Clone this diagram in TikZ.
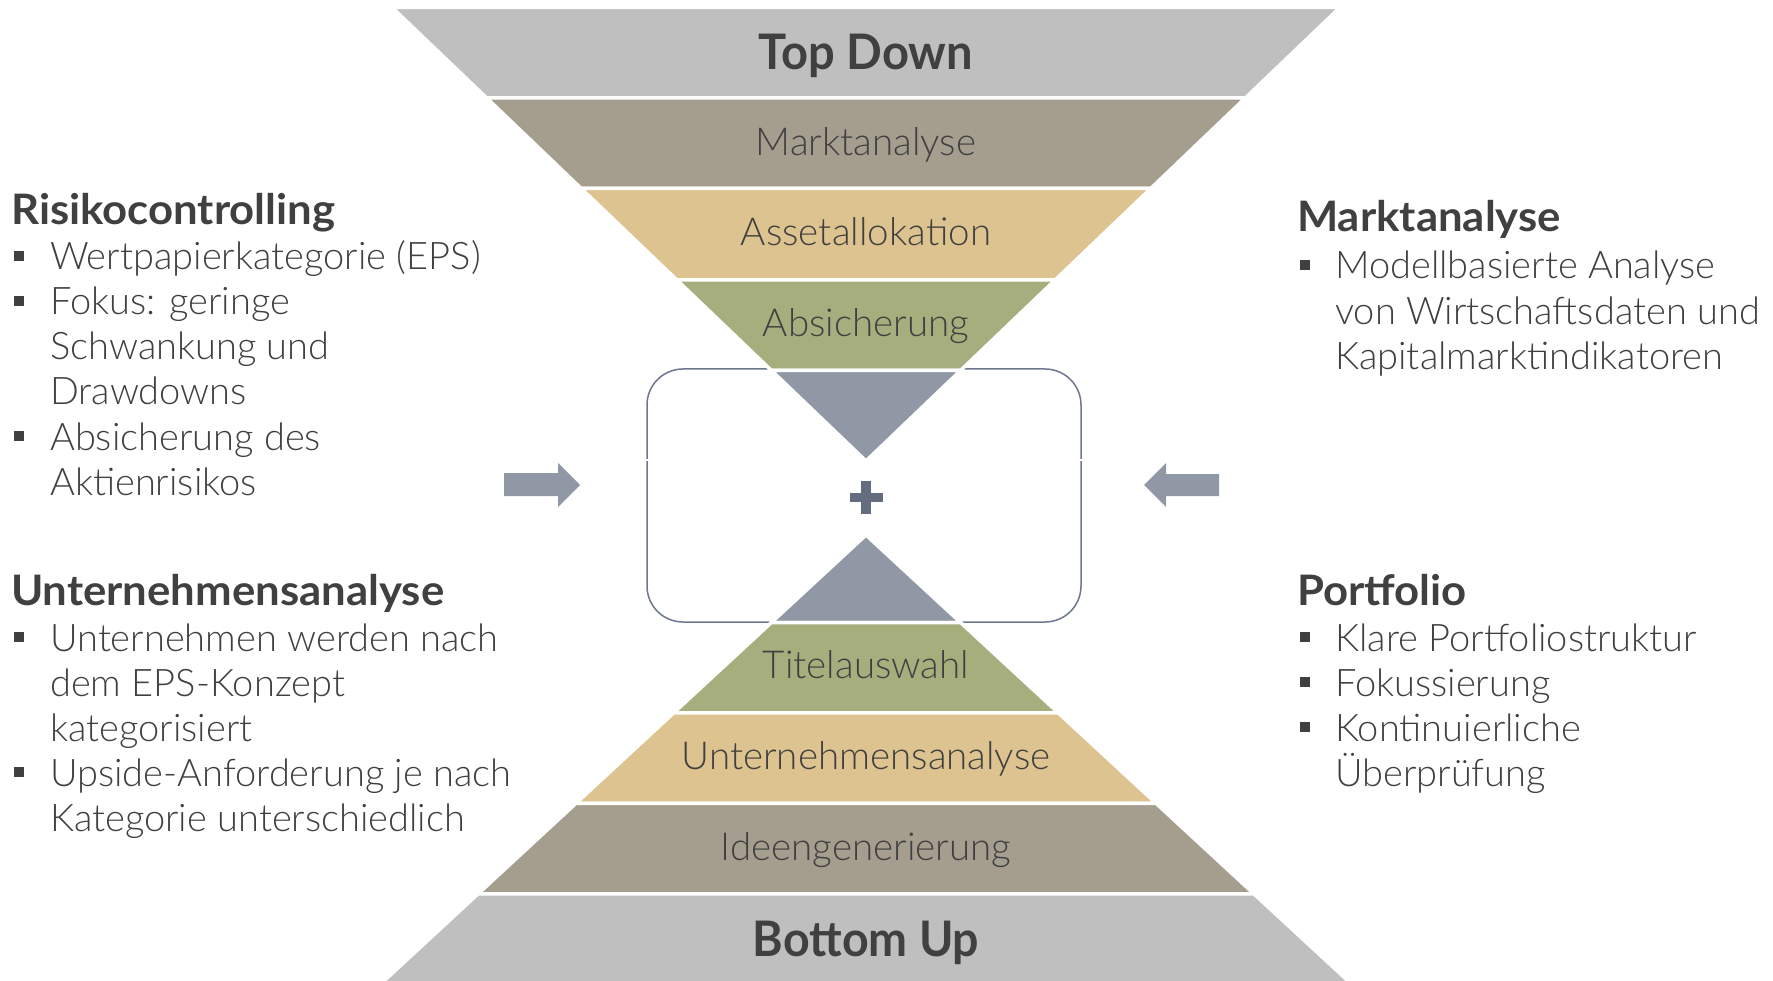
\documentclass[tikz,border=0pt]{standalone}
\usepackage{fontspec}
\usepackage{graphicx}
\setmainfont{Lato}[UprightFont={* Light}, BoldFont={* Bold}]
\newfontfamily\boldfam{Lato Bold}
\definecolor{bandgrey}{HTML}{BFBFBF}
\definecolor{taupe}{HTML}{A59E8F}
\definecolor{tan}{HTML}{DDC38F}
\definecolor{olive}{HTML}{A7AE7E}
\definecolor{trigrey}{HTML}{9198A5}
\definecolor{plusgrey}{HTML}{646C80}
\definecolor{boxline}{HTML}{6E7790}
\definecolor{txt}{HTML}{404040}
% top half band: y1 y2 colour ; apex 461, slope 1.045
\newcommand\hgtop[3]{\fill[#3, draw=white, line width=3.5pt]
  ({866-1.045*(461-#1)},#1) -- ({866+1.045*(461-#1)},#1) --
  ({866+1.045*(461-#2)},#2) -- ({866-1.045*(461-#2)},#2) -- cycle;}
% bottom half band: apex 535, slope 1.081
\newcommand\hgbot[3]{\fill[#3, draw=white, line width=3.5pt]
  ({866-1.081*(#1-535)},#1) -- ({866+1.081*(#1-535)},#1) --
  ({866+1.081*(#2-535)},#2) -- ({866-1.081*(#2-535)},#2) -- cycle;}
\newcommand\bul[2]{\fill[txt] (#1,{#2-19}) rectangle ({#1+10},{#2-9});}
\newcommand\hd[1]{\scalebox{1.04}[1]{#1}}
\begin{document}
\begin{tikzpicture}[x=1pt,y=-1pt,
  bandlabel/.style={anchor=base, text=txt, inner sep=0pt, font=\fontsize{38.5}{45}\selectfont},
  biglabel/.style={anchor=base, text=txt, inner sep=0pt, font=\boldfam\fontsize{49}{58}\selectfont},
  head/.style={anchor=base west, text=txt, inner sep=0pt, font=\boldfam\fontsize{42}{48}\selectfont},
  item/.style={anchor=base west, text=txt, inner sep=0pt, font=\fontsize{38}{45}\selectfont}]
\useasboundingbox (0,0) rectangle (1773,981);
\fill[white] (0,0) rectangle (1773,981);
% rounded box
\draw[boxline, line width=1.5pt, rounded corners=36pt] (647,369) rectangle (1081,622);
\fill[white] (644,459) rectangle (650,461.5);
\fill[white] (1078,459) rectangle (1084,461.5);
% top half
\hgtop{7.3}{97.8}{bandgrey}
\hgtop{97.8}{188.4}{taupe}
\hgtop{188.4}{279.8}{tan}
\hgtop{279.8}{370.4}{olive}
\hgtop{370.4}{461}{trigrey}
% bottom half
\hgbot{535}{622.5}{trigrey}
\hgbot{622.5}{712.8}{olive}
\hgbot{712.8}{803.3}{tan}
\hgbot{803.3}{893.8}{taupe}
\hgbot{893.8}{990}{bandgrey}
% plus
\fill[plusgrey] (849.5,492.7) rectangle (882.5,502.3);
\fill[plusgrey] (861.2,481) rectangle (870.8,514);
% arrows
\fill[trigrey] (504,473) -- (558,473) -- (558,463) -- (580,485) -- (558,507) -- (558,496) -- (504,496) -- cycle;
\fill[trigrey] (1219,474) -- (1166,474) -- (1166,463) -- (1144,485) -- (1166,507) -- (1166,496) -- (1219,496) -- cycle;
% band labels
\node[biglabel] (td) at (866,69.5) {\scalebox{0.96}[1]{Top Down}};
\node[bandlabel] (bm) at (866,155.5) {Marktanalyse};
\node[bandlabel] (ba) at (866,246) {Assetallokation};
\node[bandlabel] (bs) at (866,336.5) {Absicherung};
\node[bandlabel] (bt) at (866,678) {Titelauswahl};
\node[bandlabel] (bu) at (866,769.5) {Unternehmensanalyse};
\node[bandlabel] (bi) at (866,860) {Ideengenerierung};
\node[biglabel] (bb) at (866,956) {\scalebox{0.95}[1]{Bottom Up}};
% left top
\node[head] (h1) at (11,225) {\hd{Risikocontrolling}};
\bul{14}{270}\node[item] (a1) at (50,270) {Wertpapierkategorie (EPS)};
\bul{14}{315}\node[item] (a2) at (50,315) {Fokus: geringe};
\node[item] (a3) at (50,360) {Schwankung und};
\node[item] (a4) at (50,405) {Drawdowns};
\bul{14}{450}\node[item] (a5) at (50,450) {Absicherung des};
\node[item] (a6) at (50,495) {Aktienrisikos};
% left bottom
\node[head] (h2) at (11,605) {\hd{Unternehmensanalyse}};
\bul{14}{651}\node[item] (b1) at (50,651) {Unternehmen werden nach};
\node[item] (b2) at (50,696) {dem EPS-Konzept};
\node[item] (b3) at (50,741) {kategorisiert};
\bul{14}{786}\node[item] (b4) at (50,786) {Upside-Anforderung je nach};
\node[item] (b5) at (50,831) {Kategorie unterschiedlich};
% right top
\node[head] (h3) at (1297,232) {\hd{Marktanalyse}};
\bul{1300}{279}\node[item] (c1) at (1335,279) {Modellbasierte Analyse};
\node[item] (c2) at (1335,324.5) {von Wirtschaftsdaten und};
\node[item] (c3) at (1335,370) {Kapitalmarktindikatoren};
% right bottom
\node[head] (h4) at (1297,605) {\hd{Portfolio}};
\bul{1300}{651}\node[item] (d1) at (1335,651) {Klare Portfoliostruktur};
\bul{1300}{696}\node[item] (d2) at (1335,696) {Fokussierung};
\bul{1300}{741}\node[item] (d3) at (1335,741) {Kontinuierliche};
\node[item] (d4) at (1335,786) {Überprüfung};
\end{tikzpicture}
\end{document}
